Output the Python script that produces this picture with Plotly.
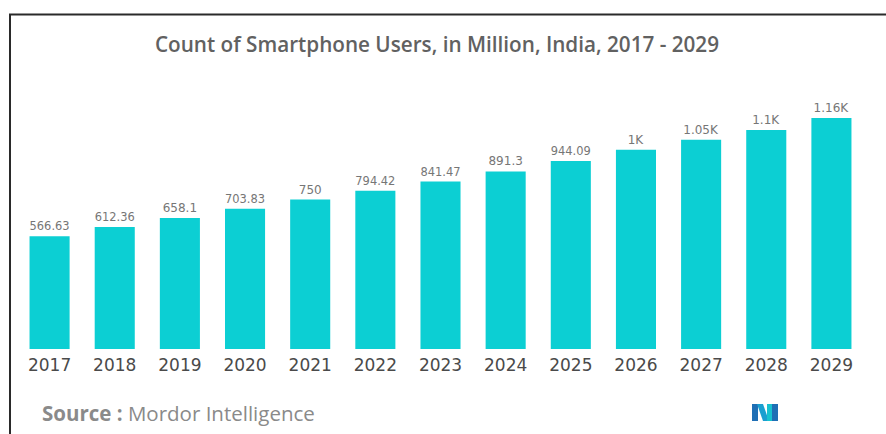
import plotly.graph_objects as go

years = ["2017", "2018", "2019", "2020", "2021", "2022", "2023",
         "2024", "2025", "2026", "2027", "2028", "2029"]
users = [566.63, 612.36, 658.1, 703.83, 750, 794.42, 841.47,
         891.3, 944.09, 1000, 1050, 1100, 1160]
value_labels = ["566.63", "612.36", "658.1", "703.83", "750", "794.42", "841.47",
                "891.3", "944.09", "1K", "1.05K", "1.1K", "1.16K"]

W, H = 886, 434
L, R, T, B = 17, 22, 100, 85
PW, PH = W - L - R, H - T - B


def px(x):
    return (x - L) / PW


def py(y):
    return (H - B - y) / PH


fig = go.Figure(go.Bar(
    x=years, y=users,
    marker=dict(color="#0ccfd3", line=dict(width=0)),
    text=value_labels, textposition="outside",
    textfont=dict(family="DejaVu Sans, sans-serif", size=12, color="#767676"),
    cliponaxis=False,
    hoverinfo="x+y",
))

shapes = [
    dict(type="line", xref="paper", yref="paper", x0=px(10), x1=px(10), y0=py(14), y1=py(440),
         line=dict(color="#2a2a2a", width=2)),
    dict(type="line", xref="paper", yref="paper", x0=px(9), x1=px(890), y0=py(14.5), y1=py(14.5),
         line=dict(color="#2a2a2a", width=2)),
]

# Logo (stylised M made of parallelograms)
logo_parts = [
    ([(752, 421), (752, 404), (758, 404), (758, 421)], "#1f6fb5"),
    ([(757, 404), (763, 404), (769, 421), (763, 421)], "#1a9fd0"),
    ([(767, 404), (773, 404), (773, 421), (767, 421)], "#17c2cf"),
    ([(772, 404), (778, 404), (778, 421), (772, 421)], "#1f6fb5"),
]
for pts, col in logo_parts:
    path = "M " + " L ".join(f"{px(x):.5f},{py(y):.5f}" for x, y in pts) + " Z"
    shapes.append(dict(type="path", xref="paper", yref="paper", path=path,
                       fillcolor=col, line=dict(width=0)))

fig.update_layout(
    width=W, height=H,
    margin=dict(l=L, r=R, t=T, b=B, pad=0),
    paper_bgcolor="white", plot_bgcolor="white",
    bargap=0.385,
    showlegend=False,
    title=dict(text="Count of Smartphone Users, in Million, India, 2017 - 2029",
               x=px(437), xanchor="center", xref="paper",
               y=1 - 45 / H, yanchor="middle",
               font=dict(family="Open Sans, sans-serif", size=20.7, color="#616161", weight=600)),
    xaxis=dict(showgrid=False, showline=False, zeroline=False, ticks="",
               tickfont=dict(family="DejaVu Sans, sans-serif", size=17, color="#4a4a4a"),
               ticklabelstandoff=4),
    yaxis=dict(visible=False, range=[0, 1250]),
    shapes=shapes,
    annotations=[
        dict(text="<b>Source :</b> Mordor Intelligence", xref="paper", yref="paper",
             x=px(40), y=py(413), xanchor="left", yanchor="middle", showarrow=False,
             font=dict(family="Open Sans, sans-serif", size=20.5, color="#8a8a8a")),
    ],
)

fig.write_html("out.html")
